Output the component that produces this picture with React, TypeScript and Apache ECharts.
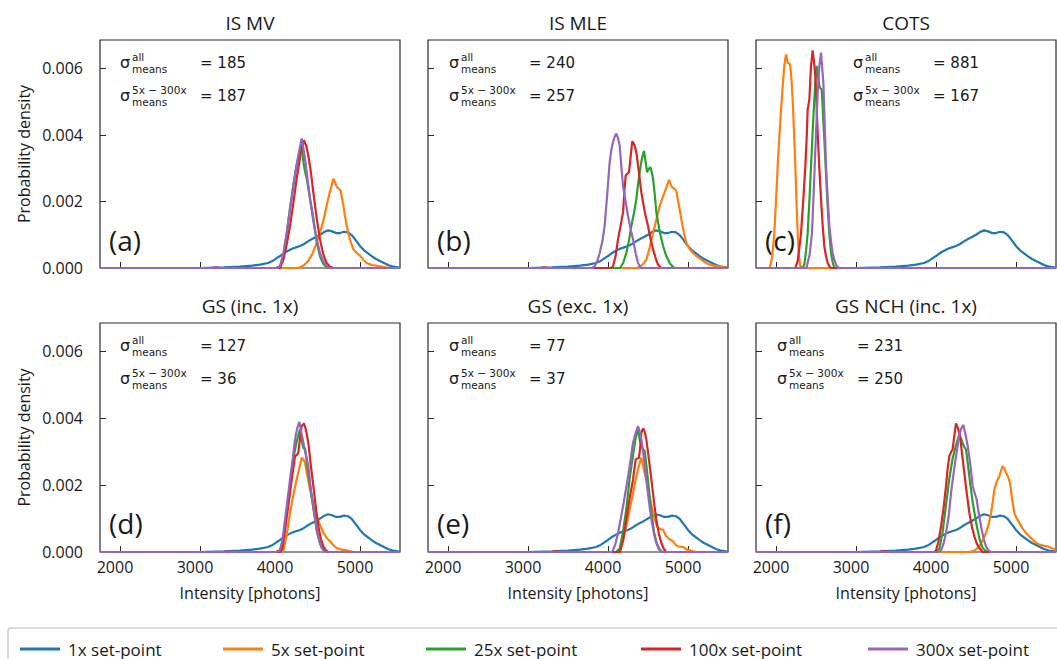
import React, { useEffect, useRef } from "react";
import * as echarts from "echarts";

// ---------- data ----------
const TITLES = ["IS MV", "IS MLE", "COTS", "GS (inc. 1x)", "GS (exc. 1x)", "GS NCH (inc. 1x)"];
const LETTERS = ["(a)", "(b)", "(c)", "(d)", "(e)", "(f)"];
const SIGMA_ALL = [185, 240, 881, 127, 77, 231];
const SIGMA_5_300 = [187, 257, 167, 36, 37, 250];
const SERIES_NAMES = ["1x set-point", "5x set-point", "25x set-point", "100x set-point", "300x set-point"];
const COLORS = ["#1f77b4", "#ff7f0e", "#2ca02c", "#d62728", "#9467bd"];
const X_TICKS = [2000, 3000, 4000, 5000];
const Y_TICKS = [0, 0.002, 0.004, 0.006];
const X_MIN = 1750;
const X_MAX = 5500;
const Y_MAX = 0.00685;
const DENSITY_UNIT = 1e-3; // densities below are in units of 1e-3

// Intensity [photons], density [1e-3]
const ONE_X = [[1750,0],[3000,0],[3300,0.02],[3500,0.04],[3650,0.07],[3750,0.1],[3850,0.15],[3900,0.2],[3950,0.28],[4000,0.36],[4050,0.45],[4100,0.52],[4150,0.58],[4200,0.62],[4250,0.66],[4300,0.72],[4350,0.8],[4400,0.87],[4450,0.93],[4500,1.0],[4550,1.08],[4600,1.13],[4650,1.1],[4700,1.05],[4750,1.05],[4800,1.09],[4850,1.07],[4900,0.98],[4950,0.82],[5000,0.66],[5050,0.53],[5100,0.44],[5150,0.35],[5200,0.27],[5250,0.21],[5300,0.15],[5350,0.09],[5400,0.05],[5450,0.03],[5500,0.01]];

const A_5X = [[1750,0],[4200,0],[4250,0.02],[4300,0.08],[4350,0.2],[4400,0.4],[4450,0.7],[4500,1.06],[4550,1.5],[4583,1.87],[4620,2.25],[4667,2.68],[4700,2.5],[4717,2.42],[4758,2.32],[4790,1.9],[4833,1.26],[4875,0.85],[4917,0.56],[4960,0.45],[5000,0.37],[5040,0.25],[5083,0.15],[5150,0.09],[5250,0.05],[5375,0],[5500,0]];
const A_25X = [[1750,0],[3950,0],[4000,0.05],[4042,0.3],[4083,1.0],[4125,1.8],[4167,2.5],[4208,3.1],[4250,3.5],[4271,3.69],[4292,3.2],[4310,2.93],[4333,2.7],[4375,2.1],[4417,1.5],[4458,0.8],[4500,0.35],[4542,0.12],[4583,0.02],[4650,0],[5500,0]];
const A_100X = [[1750,0],[3150,0],[3200,0.02],[3250,0],[4000,0],[4042,0.25],[4083,0.7],[4125,1.26],[4167,1.95],[4208,2.68],[4250,3.3],[4271,3.59],[4300,3.84],[4330,3.65],[4354,3.38],[4385,2.9],[4417,2.27],[4458,1.5],[4500,0.86],[4542,0.4],[4583,0.15],[4625,0.04],[4667,0],[5500,0]];
const A_300X = [[1750,0],[3150,0],[3200,0.02],[3250,0],[3950,0],[4000,0.05],[4042,0.45],[4083,1.06],[4125,1.75],[4167,2.47],[4200,3.0],[4229,3.38],[4271,3.89],[4292,3.6],[4313,3.28],[4340,2.75],[4375,2.07],[4417,1.4],[4458,0.86],[4500,0.45],[4542,0.2],[4580,0.05],[4604,0],[5500,0]];

const B_5X = [[1750,0],[4350,0],[4396,0.03],[4440,0.12],[4479,0.25],[4520,0.6],[4563,1.06],[4604,1.45],[4646,1.87],[4680,2.1],[4708,2.27],[4740,2.5],[4763,2.65],[4785,2.5],[4804,2.42],[4830,2.38],[4854,2.32],[4885,1.9],[4917,1.46],[4950,1.05],[4979,0.76],[5020,0.57],[5063,0.45],[5110,0.35],[5167,0.25],[5220,0.16],[5271,0.1],[5320,0.07],[5375,0.05],[5440,0.02],[5500,0]];
const B_25X = [[1750,0],[4150,0],[4190,0.15],[4229,0.45],[4260,0.8],[4292,1.26],[4325,1.65],[4354,2.07],[4375,2.5],[4396,2.88],[4425,3.3],[4450,3.52],[4470,3.2],[4488,2.88],[4510,2.98],[4529,3.03],[4545,2.9],[4563,2.68],[4585,2.2],[4604,1.67],[4646,1.1],[4688,0.66],[4730,0.35],[4771,0.15],[4810,0.04],[4833,0],[5500,0]];
const B_100X = [[1750,0],[3150,0],[3200,0.02],[3250,0],[4040,0],[4063,0.05],[4094,0.35],[4125,0.86],[4160,1.3],[4188,1.67],[4205,2.3],[4221,2.78],[4242,2.83],[4263,2.88],[4285,3.4],[4304,3.81],[4330,3.7],[4354,3.48],[4385,2.9],[4417,2.27],[4458,1.7],[4500,1.26],[4530,0.9],[4563,0.56],[4595,0.3],[4625,0.1],[4667,0],[5500,0]];
const B_300X = [[1750,0],[3800,0],[3833,0.05],[3865,0.2],[3896,0.45],[3930,0.8],[3958,1.26],[3990,2.2],[4021,3.18],[4042,3.55],[4063,3.79],[4085,3.95],[4104,4.04],[4125,3.9],[4146,3.69],[4165,3.1],[4188,2.47],[4220,2.0],[4250,1.57],[4280,1.2],[4313,0.86],[4345,0.45],[4375,0.15],[4400,0.04],[4417,0],[5500,0]];

const C_5X = [[1750,0],[1920,0],[1950,0.3],[1979,1.05],[2000,2.0],[2021,3.06],[2042,3.95],[2063,4.76],[2085,5.5],[2104,6.07],[2125,6.42],[2136,6.3],[2146,6.17],[2160,6.15],[2175,6.12],[2190,5.8],[2208,5.07],[2225,4.1],[2242,3.06],[2256,2.0],[2271,1.05],[2285,0.4],[2300,0.1],[2320,0],[5500,0]];
const C_25X = [[1750,0],[2330,0],[2354,0.1],[2375,0.5],[2396,1.05],[2417,2.0],[2438,3.06],[2458,4.1],[2479,5.07],[2495,5.7],[2508,6.07],[2525,5.75],[2542,5.47],[2555,5.4],[2571,5.37],[2588,4.6],[2604,3.86],[2625,2.85],[2646,1.86],[2667,1.0],[2688,0.45],[2710,0.15],[2729,0.02],[2750,0],[5500,0]];
const C_100X = [[1750,0],[2240,0],[2270,0.2],[2292,0.6],[2313,1.05],[2340,2.0],[2367,3.06],[2385,4.0],[2396,4.76],[2417,5.07],[2428,5.6],[2438,6.07],[2458,6.54],[2475,6.2],[2492,5.77],[2507,4.9],[2521,4.06],[2542,3.0],[2563,2.06],[2583,1.3],[2604,0.65],[2625,0.35],[2646,0.15],[2667,0.05],[2688,0],[5500,0]];
const C_300X = [[1750,0],[2380,0],[2420,0.4],[2450,1.05],[2470,2.2],[2492,3.56],[2508,4.5],[2521,5.27],[2542,6.07],[2563,6.47],[2578,6.0],[2592,5.57],[2608,4.4],[2625,3.06],[2646,2.1],[2667,1.25],[2688,0.8],[2708,0.45],[2729,0.25],[2750,0.1],[2770,0.03],[2792,0],[5500,0]];

const D_5X = [[1750,0],[4000,0],[4042,0.05],[4083,0.5],[4125,1.17],[4167,1.7],[4208,2.17],[4240,2.5],[4271,2.82],[4290,2.78],[4313,2.67],[4340,2.3],[4375,1.87],[4417,1.45],[4458,1.07],[4500,0.8],[4542,0.57],[4583,0.42],[4625,0.32],[4667,0.2],[4708,0.12],[4770,0.07],[4833,0.05],[4880,0.02],[4917,0],[5500,0]];
const D_25X = [[1750,0],[3950,0],[4000,0.05],[4042,0.4],[4083,1.2],[4125,2.0],[4167,2.8],[4208,3.3],[4250,3.67],[4275,3.3],[4292,3.1],[4313,3.1],[4340,2.6],[4375,2.0],[4417,1.3],[4458,0.65],[4500,0.25],[4542,0.06],[4583,0],[5500,0]];
const D_100X = [[1750,0],[3300,0],[3350,0.02],[3400,0],[4000,0],[4030,0.1],[4063,0.67],[4094,1.2],[4125,1.77],[4160,2.4],[4188,2.87],[4210,2.9],[4229,2.97],[4250,3.4],[4271,3.77],[4300,3.84],[4325,3.65],[4354,3.27],[4385,2.6],[4417,1.97],[4450,1.3],[4479,0.77],[4510,0.4],[4542,0.17],[4575,0.05],[4604,0],[5500,0]];
const D_300X = [[1750,0],[3950,0],[4000,0.05],[4030,0.35],[4063,0.97],[4094,1.55],[4125,2.17],[4160,2.8],[4188,3.37],[4215,3.7],[4242,3.89],[4265,3.6],[4292,3.27],[4320,2.95],[4354,2.57],[4375,2.1],[4396,1.67],[4430,1.15],[4458,0.67],[4490,0.35],[4521,0.12],[4563,0],[5500,0]];

const E_5X = [[1750,0],[4100,0],[4146,0.05],[4190,0.4],[4229,0.77],[4270,1.25],[4313,1.77],[4345,2.15],[4375,2.47],[4400,2.7],[4417,2.82],[4445,2.5],[4479,2.17],[4520,1.65],[4563,1.17],[4600,0.85],[4625,0.72],[4660,0.68],[4688,0.67],[4710,0.55],[4729,0.47],[4770,0.38],[4813,0.32],[4845,0.22],[4875,0.17],[4938,0.15],[4980,0.08],[5021,0.05],[5060,0.02],[5104,0],[5500,0]];
const E_25X = [[1750,0],[4100,0],[4146,0.1],[4188,0.6],[4229,1.3],[4271,2.2],[4313,2.9],[4345,3.4],[4375,3.67],[4400,3.3],[4430,3.1],[4458,3.02],[4480,2.6],[4510,1.9],[4542,1.2],[4575,0.6],[4604,0.3],[4640,0.1],[4667,0.02],[4700,0],[5500,0]];
const E_100X = [[1750,0],[3300,0],[3350,0.03],[3400,0],[4150,0],[4190,0.35],[4229,0.97],[4270,1.6],[4313,2.17],[4346,2.77],[4370,2.8],[4388,2.82],[4405,3.2],[4417,3.57],[4438,3.7],[4458,3.6],[4479,3.37],[4510,2.8],[4542,2.17],[4575,1.5],[4604,0.97],[4635,0.55],[4667,0.27],[4700,0.08],[4729,0],[5500,0]];
const E_300X = [[1750,0],[4050,0],[4063,0.05],[4094,0.25],[4125,0.57],[4160,1.0],[4188,1.37],[4230,1.95],[4271,2.57],[4313,3.27],[4345,3.55],[4375,3.77],[4396,3.6],[4417,3.37],[4450,2.8],[4479,2.17],[4510,1.55],[4542,0.97],[4575,0.55],[4604,0.27],[4635,0.08],[4667,0],[5500,0]];

const F_5X = [[1750,0],[4400,0],[4458,0.02],[4500,0.08],[4542,0.17],[4583,0.35],[4625,0.57],[4660,0.85],[4688,1.17],[4710,1.5],[4729,1.87],[4760,2.1],[4792,2.27],[4815,2.45],[4833,2.57],[4855,2.5],[4875,2.37],[4900,2.25],[4925,2.07],[4950,1.6],[4979,1.17],[5010,1.0],[5042,0.87],[5083,0.7],[5125,0.57],[5167,0.46],[5208,0.37],[5250,0.28],[5292,0.22],[5340,0.19],[5396,0.17],[5440,0.12],[5479,0.09],[5500,0.08]];
const F_25X = [[1750,0],[4000,0],[4042,0.1],[4083,0.6],[4125,1.4],[4167,2.2],[4208,2.8],[4250,3.2],[4292,3.52],[4320,3.35],[4350,3.15],[4375,3.07],[4400,2.6],[4430,2.0],[4458,1.5],[4500,0.9],[4542,0.4],[4583,0.12],[4625,0.02],[4650,0],[5500,0]];
const F_100X = [[1750,0],[3300,0],[3350,0.03],[3400,0],[3980,0],[4000,0.05],[4030,0.3],[4063,0.77],[4094,1.3],[4125,1.97],[4146,2.5],[4167,2.87],[4190,3.0],[4208,3.07],[4230,3.5],[4250,3.85],[4275,3.7],[4300,3.47],[4325,2.95],[4354,2.37],[4385,1.75],[4417,1.17],[4450,0.75],[4479,0.47],[4510,0.25],[4542,0.12],[4583,0],[5500,0]];
const F_300X = [[1750,0],[4040,0],[4063,0.05],[4094,0.25],[4125,0.57],[4160,1.1],[4188,1.77],[4220,2.35],[4250,2.87],[4275,3.25],[4300,3.57],[4320,3.72],[4342,3.8],[4370,3.5],[4396,3.17],[4430,2.6],[4458,1.97],[4485,1.75],[4508,1.57],[4535,1.15],[4563,0.77],[4595,0.4],[4625,0.17],[4655,0.05],[4688,0],[5500,0]];

const PANELS = [
  [ONE_X, A_5X, A_25X, A_100X, A_300X],
  [ONE_X, B_5X, B_25X, B_100X, B_300X],
  [ONE_X, C_5X, C_25X, C_100X, C_300X],
  [ONE_X, D_5X, D_25X, D_100X, D_300X],
  [ONE_X, E_5X, E_25X, E_100X, E_300X],
  [ONE_X, F_5X, F_25X, F_100X, F_300X],
];

// ---------- layout ----------
const W = 1057;
const H = 659;
const GRID_LEFTS = [100, 428, 756];
const GRID_TOPS = [40, 323];
const GRID_HEIGHTS = [228, 229];
const GRID_WIDTH = 300;
const SIGMA_DX = [20, 21, 97, 20, 21, 21];
const LEGEND_LEFTS = [15, 218, 421, 636, 863];
const TEXT = "#1a1a1a";
const SANS = '"Open Sans", "Noto Sans", sans-serif';
const MATH = '"DejaVu Sans", sans-serif';

function buildOption() {
  const grid: any[] = [];
  const xAxis: any[] = [];
  const yAxis: any[] = [];
  const series: any[] = [];
  const graphic: any[] = [];

  for (let p = 0; p < 6; p++) {
    const row = Math.floor(p / 3);
    const col = p % 3;
    const left = GRID_LEFTS[col];
    const top = GRID_TOPS[row];
    const height = GRID_HEIGHTS[row];
    grid.push({
      left, top, width: GRID_WIDTH, height,
      show: true, borderColor: "#2a2a2a", borderWidth: 1.2, backgroundColor: "transparent",
      containLabel: false,
    });
    xAxis.push({
      type: "value", gridIndex: p, min: X_MIN, max: X_MAX, splitNumber: 4,
      name: row === 1 ? "Intensity [photons]" : "",
      nameLocation: "middle", nameGap: 33,
      nameTextStyle: { fontFamily: SANS, fontSize: 16, color: TEXT },
      axisLine: { show: false },
      axisTick: { show: true, inside: true, length: 6, lineStyle: { color: "#2a2a2a", width: 1 },
        customValues: X_TICKS },
      splitLine: { show: false },
      axisLabel: {
        show: row === 1, margin: 7, fontFamily: SANS, fontSize: 16, color: TEXT,
        padding: [0, 10, 0, 0],
        customValues: X_TICKS,
        formatter: (v: number) => String(v),
      },
    });
    yAxis.push({
      type: "value", gridIndex: p, min: 0, max: Y_MAX, interval: 0.002,
      name: col === 0 ? "Probability density" : "",
      nameLocation: "middle", nameGap: 68, nameRotate: 90,
      nameTextStyle: { fontFamily: SANS, fontSize: 16, color: TEXT },
      axisLine: { show: false },
      axisTick: { show: true, inside: true, length: 6, lineStyle: { color: "#2a2a2a", width: 1 },
        customValues: Y_TICKS },
      splitLine: { show: false },
      axisLabel: {
        show: col === 0, margin: 17, fontFamily: SANS, fontSize: 16, color: TEXT,
        customValues: Y_TICKS,
        formatter: (v: number) => v.toFixed(3),
      },
    });
    PANELS[p].forEach((arr, s) => {
      series.push({
        type: "line", name: SERIES_NAMES[s], xAxisIndex: p, yAxisIndex: p,
        data: arr.map(([x, y]) => [x, y * DENSITY_UNIT]),
        showSymbol: false, symbol: "none", color: COLORS[s],
        lineStyle: { width: 2.2, color: COLORS[s] }, z: 2 + s,
      });
    });

    // title
    graphic.push({
      type: "text", silent: true,
      style: { text: TITLES[p], x: left + GRID_WIDTH / 2, y: top - 17, font: `19px ${SANS}`, fill: TEXT,
        textAlign: "center", textVerticalAlign: "middle", align: "center", verticalAlign: "middle" },
    });
    // panel letter
    graphic.push({
      type: "text", silent: true,
      style: { text: LETTERS[p], x: left + 9, y: top + 200, font: `28px ${SANS}`, fill: TEXT,
        textAlign: "left", textVerticalAlign: "middle", align: "left", verticalAlign: "middle" },
    });
    // sigma annotations
    const sx = left + SIGMA_DX[p];
    const lines = [
      { sup: "all", val: SIGMA_ALL[p], dy: 0 },
      { sup: "5x \u2212 300x", val: SIGMA_5_300[p], dy: 33 },
    ];
    lines.forEach((ln) => {
      const base = top + ln.dy;
      graphic.push({
        type: "text", silent: true,
        style: { text: "\u03c3", x: sx, y: base + 22.5, font: `16px ${MATH}`, fill: TEXT,
          textAlign: "left", textVerticalAlign: "middle", align: "left", verticalAlign: "middle" },
      });
      graphic.push({
        type: "text", silent: true,
        style: { text: ln.sup, x: sx + 12, y: base + 16.5, font: `10.5px ${MATH}`,
          fill: TEXT, textAlign: "left", textVerticalAlign: "middle", align: "left", verticalAlign: "middle" },
      });
      graphic.push({
        type: "text", silent: true,
        style: { text: "means", x: sx + 12, y: base + 29, font: `10.5px ${MATH}`,
          fill: TEXT, textAlign: "left", textVerticalAlign: "middle", align: "left", verticalAlign: "middle" },
      });
      graphic.push({
        type: "text", silent: true,
        style: { text: "= " + ln.val, x: sx + 80, y: base + 23, font: `15px ${MATH}`, fill: TEXT,
          textAlign: "left", textVerticalAlign: "middle", align: "left", verticalAlign: "middle" },
      });
    });
  }

  // legend frame
  graphic.push({
    type: "rect", silent: true, z: -1,
    shape: { x: 8, y: 628, width: 1060, height: 40, r: 3 },
    style: { fill: "#ffffff", stroke: "#cfcfcf", lineWidth: 1.5 },
  });

  const legend = SERIES_NAMES.map((name, i) => ({
    data: [name],
    left: LEGEND_LEFTS[i], top: 634,
    icon: "rect", itemWidth: 40, itemHeight: 3,
    textStyle: { fontFamily: SANS, fontSize: 17, color: TEXT, padding: [0, 0, 0, 3], lineHeight: 20 },
    selectedMode: false,
  }));

  return {
    animation: false,
    backgroundColor: "#ffffff",
    grid, xAxis, yAxis, series, graphic, legend,
  };
}

export default function App() {
  const ref = useRef<HTMLDivElement>(null);
  useEffect(() => {
    document.body.style.margin = "0";
    if (!ref.current) return;
    const chart = echarts.init(ref.current, undefined, { renderer: "svg" });
    chart.setOption(buildOption() as any);
    return () => chart.dispose();
  }, []);
  return <div ref={ref} style={{ width: W, height: H }} />;
}
